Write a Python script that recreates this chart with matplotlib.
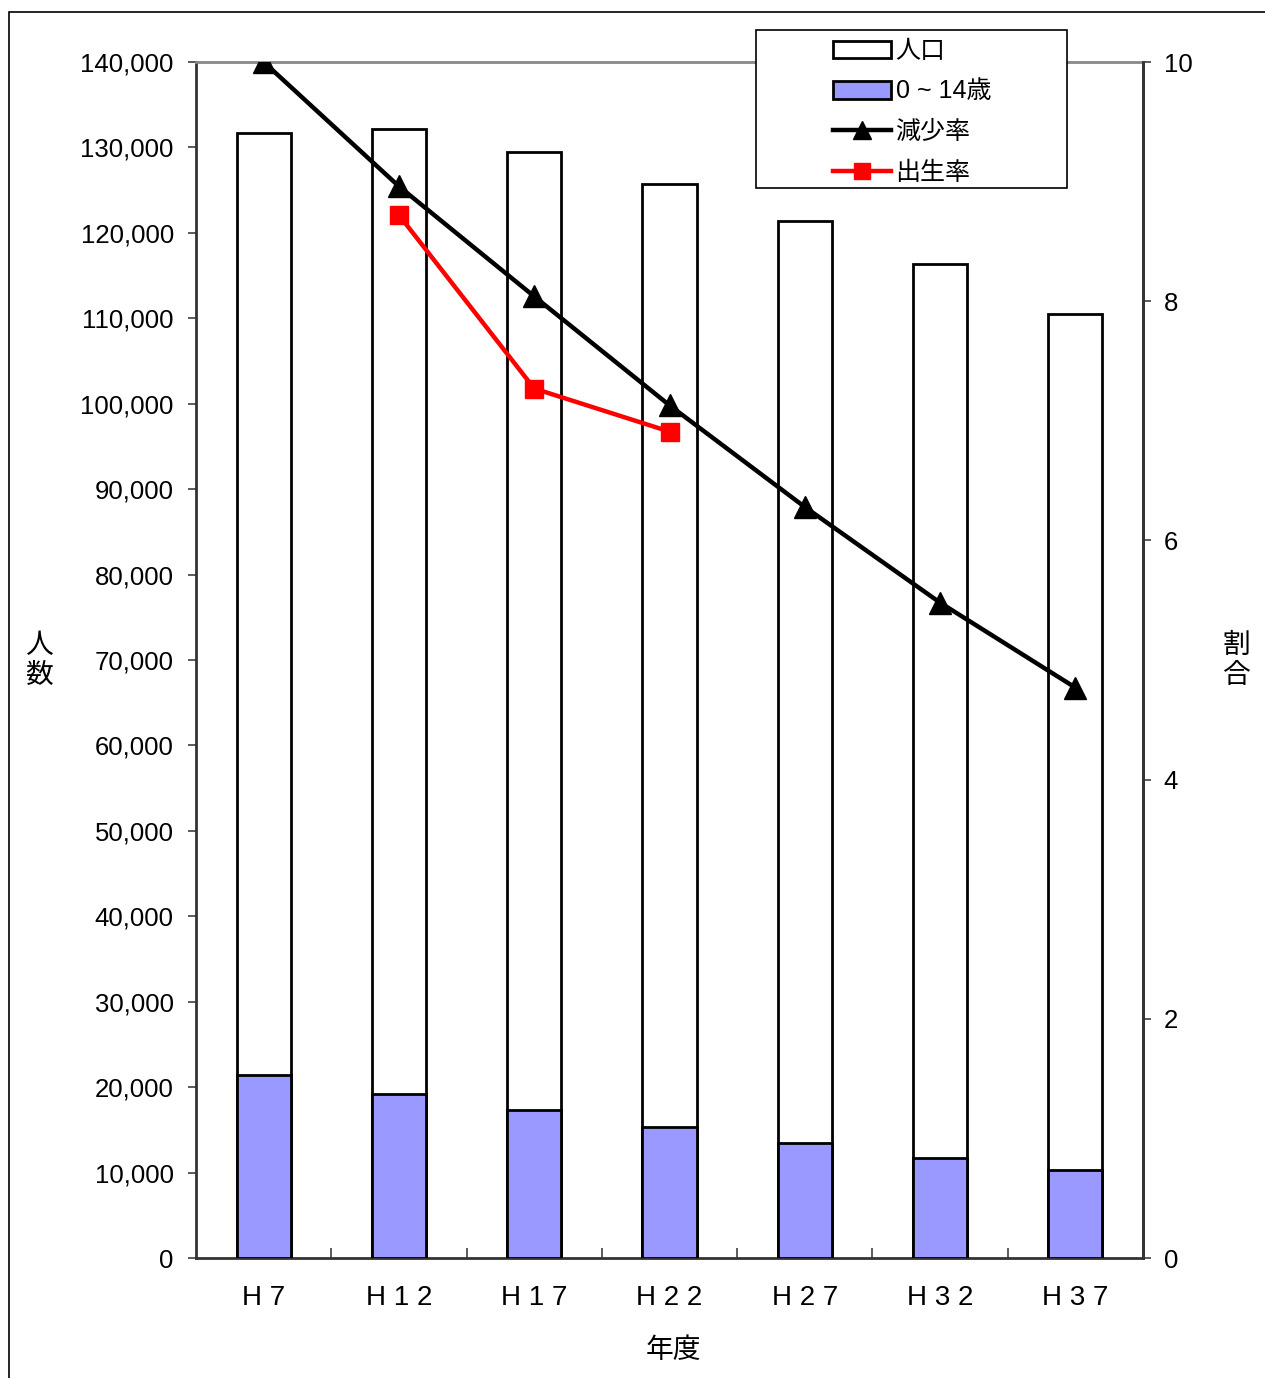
import numpy as np
import matplotlib
matplotlib.use("Agg")
import matplotlib.pyplot as plt
from matplotlib.patches import Rectangle
from matplotlib.lines import Line2D

plt.rcParams['font.family'] = ['Liberation Sans', 'Noto Sans CJK JP', 'DejaVu Sans']

# data
years = ["H 7", "H 1 2", "H 1 7", "H 2 2", "H 2 7", "H 3 2", "H 3 7"]
population = [131700, 132200, 129500, 125700, 121400, 116400, 110500]
children = [21400, 19200, 17300, 15300, 13500, 11700, 10300]
decline_rate = [10.0, 8.96, 8.04, 7.13, 6.28, 5.48, 4.77]
birth_years = ["H 1 2", "H 1 7", "H 2 2"]
birth_rate = [8.72, 7.27, 6.91]

fig = plt.figure(figsize=(12.65, 13.78), dpi=100)
# outer frame
fig.add_artist(Rectangle((0.007, -0.01), 1.1, 1 - 0.009 + 0.01, transform=fig.transFigure,
                         fill=False, edgecolor='black', linewidth=1.2))

ax = fig.add_axes([0.155, 0.087, 0.7485, 0.868])
x = np.arange(len(years))
ax.bar(x, population, width=0.4, color='white', edgecolor='black', linewidth=2, zorder=2)
ax.bar(x, children, width=0.4, color='#9999FF', edgecolor='black', linewidth=2, zorder=3)
ax.set_xlim(-0.5, 6.5)
ax.set_ylim(0, 140000)
ax.set_yticks(np.arange(0, 140001, 10000))
ax.set_yticklabels([f"{v:,}" for v in range(0, 140001, 10000)], fontsize=18.5)
ax.set_xticks(x)
ax.set_xticklabels(years, fontsize=20)
ax.tick_params(axis='x', length=0, pad=19)
ax.set_xticks(np.arange(0.5, 6.5, 1), minor=True)
ax.tick_params(axis='x', which='minor', direction='in', length=7, width=1.2, color='#404040')
ax.tick_params(axis='y', direction='out', length=6, width=1.2, color='#404040', pad=10)
for s in ['left', 'bottom', 'right']:
    ax.spines[s].set_color('#333333')
    ax.spines[s].set_linewidth(2)
ax.spines['top'].set_color('#888888')
ax.spines['top'].set_linewidth(2)

ax2 = ax.twinx()
ax2.set_ylim(0, 10)
ax2.set_yticks([0, 2, 4, 6, 8, 10])
ax2.set_yticklabels(['0', '2', '4', '6', '8', '10'], fontsize=18.5)
ax2.tick_params(axis='y', direction='out', length=6, width=1.2, color='#404040', pad=9)
ax2.spines['right'].set_color('#333333')
ax2.spines['right'].set_linewidth(2)
ax2.spines['top'].set_visible(False)
ax2.spines['left'].set_visible(False)
ax2.spines['bottom'].set_visible(False)
ax2.plot(x, decline_rate, color='black', linewidth=3.2, marker='^', markersize=16, zorder=5)
bx = [years.index(b) for b in birth_years]
ax2.plot(bx, birth_rate, color='#FF0000', linewidth=3.2, marker='s', markersize=13.5, zorder=5)
ax2.set_xlim(-0.5, 6.5)

jp = ['Noto Sans CJK JP']
fig.text(0.031, 0.521, "人\n数", fontsize=20, family=jp, ha='center', va='center', linespacing=1.0)
fig.text(0.977, 0.521, "割\n合", fontsize=20, family=jp, ha='center', va='center', linespacing=1.0)
fig.text(0.532, 0.020, "年度", fontsize=20, family=jp, ha='center', va='center')

# legend frame drawn separately (wider than its contents)
fig.add_artist(Rectangle((756 / 1265, 1 - 188 / 1378), 311 / 1265, 158 / 1378,
                         transform=fig.transFigure, facecolor='white',
                         edgecolor='black', linewidth=1.2, zorder=9))
handles = [
    Rectangle((0, 0), 1, 1, facecolor='white', edgecolor='black', linewidth=2),
    Rectangle((0, 0), 1, 1, facecolor='#9999FF', edgecolor='black', linewidth=2),
    Line2D([], [], color='black', linewidth=3.2, marker='^', markersize=13),
    Line2D([], [], color='#FF0000', linewidth=3.2, marker='s', markersize=12),
]
labels = ["人口", "0 ~ 14歳", "減少率", "出生率"]
leg = fig.legend(handles, labels, loc='upper left', bbox_to_anchor=(833 / 1265, 1 - 39 / 1378),
                 prop={'family': ['Liberation Sans', 'Noto Sans CJK JP'], 'size': 18},
                 frameon=False, handlelength=2.3, handleheight=0.7,
                 handletextpad=0.2, labelspacing=0.66,
                 borderpad=0, borderaxespad=0)
leg.set_zorder(10)

fig.savefig("out.png", dpi=100)
